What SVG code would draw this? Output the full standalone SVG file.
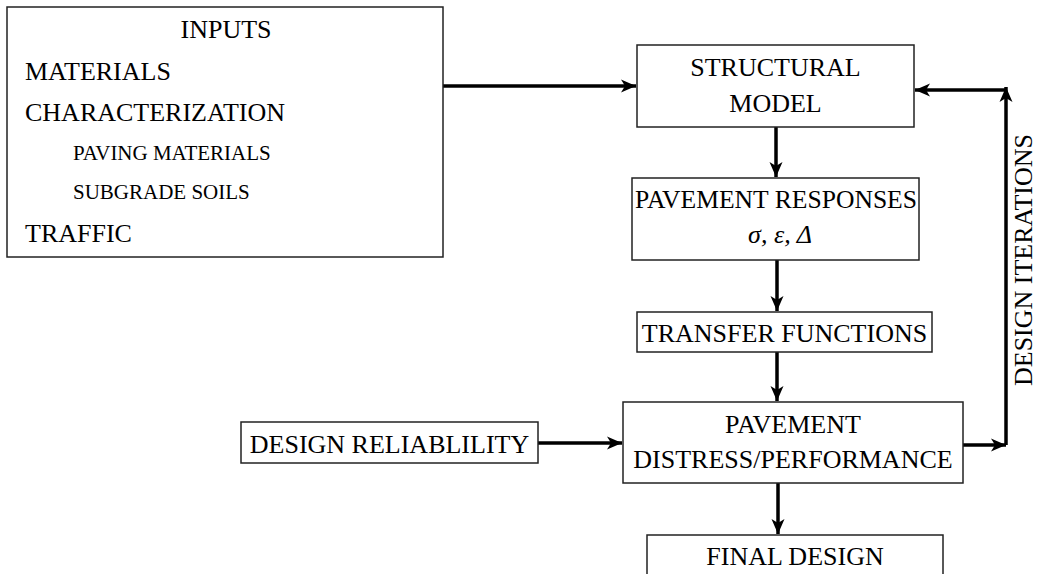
<svg xmlns="http://www.w3.org/2000/svg" width="1043" height="574" viewBox="0 0 1043 574">
<style>
.box{fill:#fff;stroke:#222;stroke-width:1.5}
.t{font-family:"Liberation Serif","Times New Roman",serif;font-size:26px;fill:#000}
.s{font-size:21px}
.m{text-anchor:middle}
.c{fill:none;stroke:#000;stroke-width:3.5}
</style>
<defs>
<marker id="ah" markerUnits="userSpaceOnUse" markerWidth="16" markerHeight="16" refX="15" refY="8" orient="auto">
<path d="M0,1.5 L15,8 L0,14.5 L4,8 z" fill="#000"/>
</marker>
</defs>
<rect width="1043" height="574" fill="#fff"/>
<g id="connectors">
<line class="c" x1="443" y1="86" x2="636" y2="86" marker-end="url(#ah)"/>
<line class="c" x1="776" y1="127" x2="776" y2="177" marker-end="url(#ah)"/>
<line class="c" x1="777" y1="260" x2="777" y2="311" marker-end="url(#ah)"/>
<line class="c" x1="777" y1="352" x2="777" y2="401" marker-end="url(#ah)"/>
<line class="c" x1="778" y1="483" x2="778" y2="534" marker-end="url(#ah)"/>
<line class="c" x1="538" y1="443" x2="622" y2="443" marker-end="url(#ah)"/>
<line class="c" x1="963" y1="445" x2="1006" y2="445" marker-end="url(#ah)"/>
<line class="c" x1="1006" y1="445" x2="1006" y2="87" marker-end="url(#ah)"/>
<line class="c" x1="1006" y1="90" x2="915" y2="90" marker-end="url(#ah)"/>
</g>
<g id="inputs">
<rect class="box" x="7" y="7" width="436" height="250"/>
<text class="t m" x="226" y="38">INPUTS</text>
<text class="t" x="25" y="80">MATERIALS</text>
<text class="t" x="25" y="121">CHARACTERIZATION</text>
<text class="t s" x="73" y="160">PAVING MATERIALS</text>
<text class="t s" x="73" y="199">SUBGRADE SOILS</text>
<text class="t" x="25" y="242">TRAFFIC</text>
</g>
<g id="structural-model">
<rect class="box" x="637" y="45" width="277" height="82"/>
<text class="t m" x="775.5" y="76">STRUCTURAL</text>
<text class="t m" x="775.5" y="112">MODEL</text>
</g>
<g id="pavement-responses">
<rect class="box" x="632" y="178" width="287" height="82"/>
<text class="t m" x="776" y="208" textLength="282" lengthAdjust="spacingAndGlyphs">PAVEMENT RESPONSES</text>
<text class="t m" x="780" y="243" font-style="italic">σ, ε, Δ</text>
</g>
<g id="transfer-functions">
<rect class="box" x="637" y="312" width="295" height="40"/>
<text class="t m" x="784.5" y="342">TRANSFER FUNCTIONS</text>
</g>
<g id="pavement-distress">
<rect class="box" x="623" y="402" width="340" height="81"/>
<text class="t m" x="793" y="433">PAVEMENT</text>
<text class="t m" x="793" y="468">DISTRESS/PERFORMANCE</text>
</g>
<g id="design-reliability">
<rect class="box" x="241" y="422" width="297" height="41"/>
<text class="t m" x="389.5" y="453">DESIGN RELIABLILITY</text>
</g>
<g id="final-design">
<rect class="box" x="647" y="535" width="296" height="60"/>
<text class="t m" x="795" y="565">FINAL DESIGN</text>
</g>
<g id="design-iterations">
<text class="t m" x="0" y="0" font-size="24" transform="translate(1032,260) rotate(-90)">DESIGN ITERATIONS</text>
</g>
</svg>
